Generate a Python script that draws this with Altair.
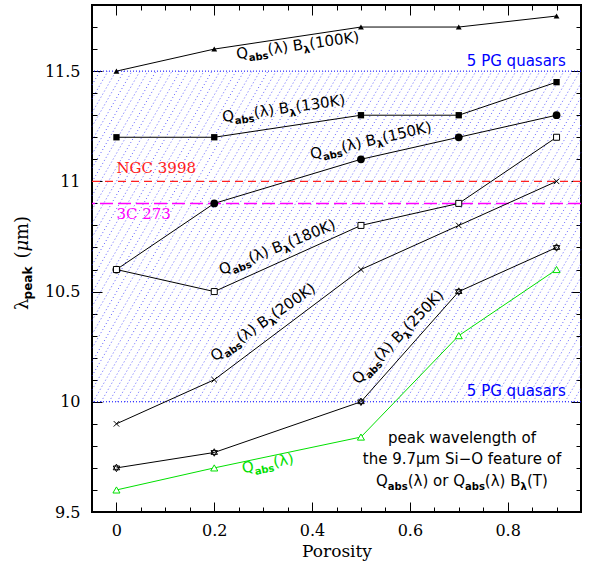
import math
import altair as alt
import pandas as pd

# ---------------- data ----------------
porosity = [0.0, 0.2, 0.5, 0.7, 0.9]
series_names = ["100K", "130K", "150K", "180K", "200K", "250K", "Qabs"]
peak_100K = [11.50, 11.60, 11.70, 11.70, 11.75]
peak_130K = [11.20, 11.20, 11.30, 11.30, 11.45]
peak_150K = [10.60, 10.90, 11.10, 11.20, 11.30]
peak_180K = [10.60, 10.50, 10.80, 10.90, 11.20]
peak_200K = [9.90, 10.10, 10.60, 10.80, 11.00]
peak_250K = [9.70, 9.77, 10.00, 10.50, 10.70]
peak_qabs = [9.60, 9.70, 9.84, 10.30, 10.60]

ngc3998_peak = 11.0
c3_273_peak = 10.9
pg_low, pg_high = 10.0, 11.5

x_domain = [-0.05, 0.95]
y_domain = [9.5, 11.8]
x_major = [0.0, 0.2, 0.4, 0.6, 0.8]
x_minor = [round(0.05 * i, 2) for i in range(0, 19)]
y_major = [9.5, 10.0, 10.5, 11.0, 11.5]
y_minor = [round(9.5 + 0.1 * i, 1) for i in range(0, 24)]

label_temps = ["(100K)", "(130K)", "(150K)", "(180K)", "(200K)", "(250K)"]
label_x = [0.2465, 0.218, 0.399, 0.215, 0.2015, 0.4946]
label_y = [11.555, 11.269, 11.100, 10.575, 10.182, 10.076]
label_angle = [352, 352, 347, 338, 325, 314]
qabs_label_x, qabs_label_y, qabs_label_angle = [0.259], [9.676], [349]

note_x = 0.7066
note_y = [9.812, 9.716, 9.619]
note_lines = ["peak wavelength of", "the 9.7\u03bcm Si\u2212O feature of"]

# ---------------- layout ----------------
W, H = 489, 507
PAD = {"left": 92, "top": 5, "right": 9, "bottom": 54}
GREEN = "#00e000"
BLUE = "#0000ff"
FONT_SANS = "DejaVu Sans"
FONT_SERIF = "DejaVu Serif"

xs = alt.Scale(domain=x_domain, nice=False, zero=False)
ys = alt.Scale(domain=y_domain, nice=False, zero=False)


def X(f):
    return alt.X(f, type="quantitative", scale=xs, axis=None)


def Y(f):
    return alt.Y(f, type="quantitative", scale=ys, axis=None)


# approximate advance widths (em)
W_REG = {"Q": 0.787, "a": 0.613, "b": 0.635, "s": 0.521, "(": 0.390, ")": 0.390,
         "\u03bb": 0.592, " ": 0.318, "B": 0.686, "K": 0.656, "o": 0.612, "r": 0.411,
         "T": 0.611, "m": 0.948, "\u03bc": 0.64}
W_BOLD = {"a": 0.675, "b": 0.716, "s": 0.595, "\u03bb": 0.652, "p": 0.716, "e": 0.678, "k": 0.665}


def tw(s, size, bold=False):
    tab = W_BOLD if bold else W_REG
    return sum(tab.get(c, 0.63) for c in s) * size


def rich(df, pieces, xenc, yenc, start_dx=0.0):
    layers = []
    dx = start_dx
    for p in pieces:
        dx += p.get("pre", 0)
        mk = dict(align="left", baseline="alphabetic", dx=dx, dy=p.get("dy", 0),
                  fontSize=p["size"], font=p.get("font", FONT_SANS),
                  fontWeight="bold" if p.get("bold") else "normal")
        if p.get("italic"):
            mk["fontStyle"] = "italic"
        enc = dict(x=xenc, y=yenc,
                   angle=alt.Angle("ang:Q", scale=None),
                   color=alt.Color("col:N", scale=None, legend=None))
        if "field" in p:
            enc["text"] = alt.Text(p["field"] + ":N")
        else:
            mk["text"] = p["text"]
            dx += tw(p["text"], p["size"], p.get("bold", False))
        layers.append(alt.Chart(df).mark_text(**mk).encode(**enc))
    return layers


def rich_width(pieces):
    return sum(tw(p["text"], p["size"], p.get("bold", False)) + p.get("pre", 0) for p in pieces)


# ---------------- long table ----------------
vals = [peak_100K, peak_130K, peak_150K, peak_180K, peak_200K, peak_250K, peak_qabs]
rows = []
for name, v in zip(series_names, vals):
    for p, q in zip(porosity, v):
        rows.append({"series": name, "porosity": p, "peak": q})
df = pd.DataFrame(rows)

# ---------------- hatch of the 5 PG quasar range ----------------
px_x = W / (x_domain[1] - x_domain[0])
px_y = H / (y_domain[1] - y_domain[0])
shift = (pg_high - pg_low) * px_y / math.tan(math.radians(60)) / px_x
step = 8.0 / px_x
hrows = []
x0 = x_domain[0] - shift
while x0 < x_domain[1]:
    t0 = max(0.0, (x_domain[0] - x0) / shift)
    t1 = min(1.0, (x_domain[1] - x0) / shift)
    if t1 > t0:
        hrows.append({"x": x0 + shift * t0, "y": pg_low + (pg_high - pg_low) * t0,
                      "x2": x0 + shift * t1, "y2": pg_low + (pg_high - pg_low) * t1})
    x0 += step
hatch_df = pd.DataFrame(hrows)

layers = []
layers.append(alt.Chart(hatch_df).mark_rule(color="#2b2bff", strokeWidth=1, strokeDash=[1, 2.5],
                                            opacity=0.75).encode(
    x=X("x"), y=Y("y"), x2=alt.X2("x2"), y2=alt.Y2("y2")))

band_df = pd.DataFrame({"y": [pg_low, pg_high]})
layers.append(alt.Chart(band_df).mark_rule(color=BLUE, strokeWidth=1, strokeDash=[1, 2]).encode(y=Y("y")))
layers.append(alt.Chart(pd.DataFrame({"y": [ngc3998_peak]})).mark_rule(
    color="#ff2020", strokeWidth=1.3, strokeDash=[8, 5]).encode(y=Y("y")))
layers.append(alt.Chart(pd.DataFrame({"y": [c3_273_peak]})).mark_rule(
    color="#ff00ff", strokeWidth=1.5, strokeDash=[13, 5]).encode(y=Y("y")))

layers.append(alt.Chart(df).mark_line(strokeWidth=1).encode(
    x=X("porosity"), y=Y("peak"), detail="series:N",
    color=alt.Color("series:N", scale=alt.Scale(domain=series_names,
                                                range=["black"] * 6 + [GREEN]), legend=None)))

cross_path = "M-1,-1L1,1M-1,1L1,-1"
star_path = "M0,-1L0.866,0.5L-0.866,0.5Z M0,1L0.866,-0.5L-0.866,-0.5Z"
styles = {
    "100K": dict(shape="triangle-up", filled=True, color="black", size=34),
    "130K": dict(shape="square", filled=True, color="black", size=40),
    "150K": dict(shape="circle", filled=True, color="black", size=60),
    "180K": dict(shape="square", filled=True, fill="white", stroke="black", strokeWidth=1, size=36),
    "200K": dict(shape=cross_path, filled=False, color="black", strokeWidth=1, size=30),
    "250K": dict(shape=star_path, filled=False, color="black", strokeWidth=1, size=56),
    "Qabs": dict(shape="triangle-up", filled=True, fill="white", stroke=GREEN, strokeWidth=1, size=50),
}
for name in series_names:
    layers.append(alt.Chart(df[df.series == name]).mark_point(opacity=1, **styles[name]).encode(
        x=X("porosity"), y=Y("peak")))

# ---------------- curve labels ----------------
lab_df = pd.DataFrame({"x": label_x, "y": label_y, "ang": label_angle,
                       "col": ["black"] * 6, "tt": label_temps})
temp_pieces = [
    dict(text="Q", size=15),
    dict(text="abs", size=10, bold=True, dy=4),
    dict(text="(\u03bb) B", size=15),
    dict(text="\u03bb", size=10, bold=True, dy=4),
    dict(field="tt", size=15),
]
layers += rich(lab_df, temp_pieces, X("x"), Y("y"))

q_df = pd.DataFrame({"x": qabs_label_x, "y": qabs_label_y, "ang": qabs_label_angle, "col": [GREEN]})
layers += rich(q_df, [dict(text="Q", size=15), dict(text="abs", size=10, bold=True, dy=4),
                      dict(text="(\u03bb)", size=15)], X("x"), Y("y"))

# object labels
obj_df = pd.DataFrame({"x": [0.0, 0.0], "y": [11.039, 10.829], "t": ["NGC 3998", "3C 273"],
                       "col": ["#ff2020", "#ff00ff"]})
layers.append(alt.Chart(obj_df).mark_text(align="left", baseline="alphabetic", font=FONT_SERIF,
                                          fontSize=15).encode(
    x=X("x"), y=Y("y"), text="t:N", color=alt.Color("col:N", scale=None, legend=None)))

pg_df = pd.DataFrame({"x": [0.919, 0.919], "y": [11.523, 10.026], "t": ["5 PG quasars"] * 2})
layers.append(alt.Chart(pg_df).mark_text(align="right", baseline="alphabetic", font=FONT_SANS,
                                         fontSize=15, color=BLUE).encode(
    x=X("x"), y=Y("y"), text="t:N"))

# note text
note_df = pd.DataFrame({"x": [note_x] * 2, "y": note_y[:2], "t": note_lines})
layers.append(alt.Chart(note_df).mark_text(align="center", baseline="alphabetic", font=FONT_SANS,
                                           fontSize=15, color="black").encode(
    x=X("x"), y=Y("y"), text="t:N"))
note3_pieces = [
    dict(text="Q", size=15), dict(text="abs", size=10, bold=True, dy=4),
    dict(text="(\u03bb) or Q", size=15), dict(text="abs", size=10, bold=True, dy=4),
    dict(text="(\u03bb) B", size=15), dict(text="\u03bb", size=10, bold=True, dy=4),
    dict(text="(T)", size=15),
]
n3_df = pd.DataFrame({"x": [note_x], "y": [note_y[2]], "ang": [0], "col": ["black"]})
layers += rich(n3_df, note3_pieces, X("x"), Y("y"), start_dx=-rich_width(note3_pieces) / 2)

# y axis title (rotated, with subscript)
yt_pieces = [
    dict(text="\u03bb", size=18, font=FONT_SERIF),
    dict(text="peak", size=12, bold=True, dy=4),
    dict(text="(", size=18, font=FONT_SERIF, pre=8),
    dict(text="\u03bc", size=18, font=FONT_SERIF, italic=True),
    dict(text="m)", size=18, font=FONT_SERIF),
]
yt_df = pd.DataFrame({"ang": [270], "col": ["black"]})
layers += rich(yt_df, yt_pieces, alt.value(-64), alt.value(258 + rich_width(yt_pieces) / 2))

# ---------------- axes (inward ticks on all sides) ----------------
ax_df = pd.DataFrame({"x": x_domain, "y": y_domain})
base_ax = dict(domain=False, grid=False, tickColor="black", tickWidth=1)


def ax_layer(xa, ya):
    return alt.Chart(ax_df).mark_point(opacity=0).encode(
        x=alt.X("x:Q", scale=xs, axis=xa), y=alt.Y("y:Q", scale=ys, axis=ya))


layers.append(ax_layer(
    alt.Axis(orient="bottom", values=x_major, offset=-10, tickSize=10, format="~g",
             labelFont=FONT_SERIF, labelFontSize=16, labelColor="black", labelPadding=10,
             labelFlush=False, title="Porosity", titleFont=FONT_SERIF, titleFontSize=17,
             titleFontWeight="normal", titleColor="black", titlePadding=5, **base_ax),
    alt.Axis(orient="left", values=y_major, offset=-10, tickSize=10, format="~g",
             labelFont=FONT_SERIF, labelFontSize=16, labelColor="black", labelPadding=12,
             labelFlush=False, title="", **base_ax)))
layers.append(ax_layer(
    alt.Axis(orient="bottom", values=x_minor, offset=-5, tickSize=5, labels=False, title="", **base_ax),
    alt.Axis(orient="left", values=y_minor, offset=-5, tickSize=5, labels=False, title="", **base_ax)))
layers.append(ax_layer(
    alt.Axis(orient="top", values=x_major, offset=-10, tickSize=10, labels=False, title="", **base_ax),
    alt.Axis(orient="right", values=y_major, offset=-10, tickSize=10, labels=False, title="", **base_ax)))
layers.append(ax_layer(
    alt.Axis(orient="top", values=x_minor, offset=-5, tickSize=5, labels=False, title="", **base_ax),
    alt.Axis(orient="right", values=y_minor, offset=-5, tickSize=5, labels=False, title="", **base_ax)))

chart = alt.layer(*layers).resolve_axis(x="independent", y="independent").properties(
    width=W, height=H, autosize=alt.AutoSizeParams(type="none"), padding=PAD,
    background="white",
).configure_view(stroke="black", strokeWidth=2)

chart.save("out.html", embed_options={"renderer": "svg", "actions": False})
